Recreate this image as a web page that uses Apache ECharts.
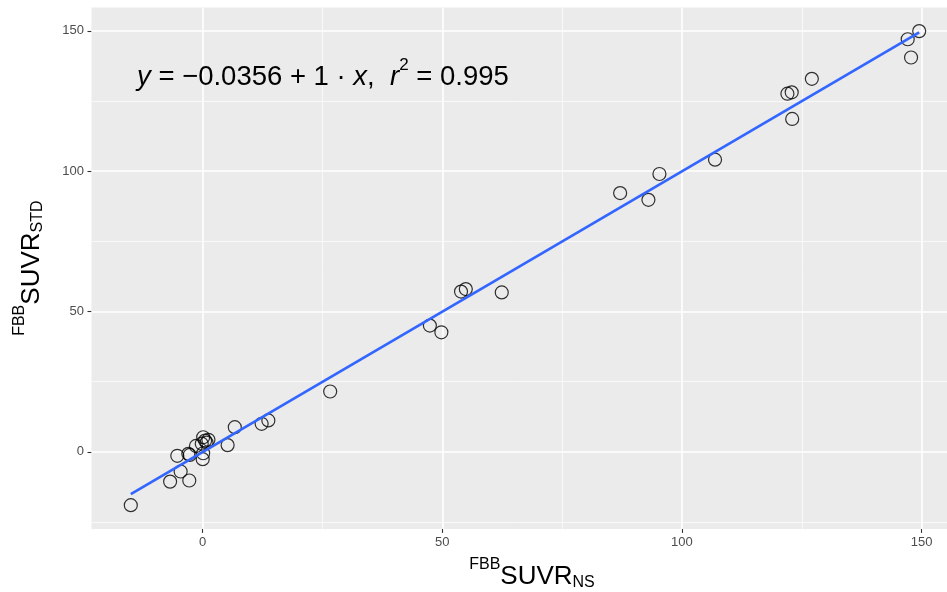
<!DOCTYPE html>
<html>
<head>
<meta charset="utf-8">
<script src="https://cdn.jsdelivr.net/npm/echarts@6/dist/echarts.min.js"></script>
<style>
html,body{margin:0;padding:0;background:#fff;}
#chart{width:947px;height:592px;}
</style>
</head>
<body>
<div id="chart"></div>
<script>
// Data
const nsValues  = [-15.0, -6.8, -2.8, -4.6, -5.3, -3.0, -2.7, -1.4, 0.0, 0.1, 0.1, 0.5, 0.8, -0.2, 1.2, 5.2, 6.7, 12.3, 13.7, 26.6, 47.4, 49.8, 53.9, 54.9, 62.4, 87.1, 93.0, 95.3, 106.9, 122.0, 122.9, 123.0, 127.1, 147.1, 149.5, 147.8];
const stdValues = [-19.0, -10.6, -10.2, -7.0, -1.4, -0.7, -1.1, 2.1, -2.6, -0.5, 5.2, 4.0, 3.3, 2.9, 4.3, 2.4, 8.8, 10.0, 11.2, 21.5, 45.0, 42.6, 57.1, 58.0, 56.8, 92.2, 89.8, 99.0, 104.1, 127.6, 128.1, 118.6, 132.9, 147.0, 149.9, 140.5];
const fitX = [-15.0, 149.5];
const fitY = [-15.04, 149.46];
const xTickLabels = [0, 50, 100, 150];
const yTickLabels = [0, 50, 100, 150];
const xMinorGrid = [25, 75, 125];
const yMinorGrid = [-25, 25, 75, 125];
const xRange = [-23.2, 157.7];
const yRange = [-27.45, 158.35];

const points = nsValues.map((v, i) => [v, stdValues[i]]);
const fitLine = fitX.map((v, i) => [v, fitY[i]]);

const chart = echarts.init(document.getElementById('chart'));
const FONT = 'Liberation Sans, Arial, sans-serif';
const axisTitleRich = {
  sup: {fontSize: 16, lineHeight: 16, verticalAlign: 'top', color: '#000', fontFamily: FONT},
  main: {fontSize: 26, lineHeight: 40, color: '#000', fontFamily: FONT},
  sub: {fontSize: 16, lineHeight: 16, verticalAlign: 'bottom', padding: [0, 0, 6, 0], color: '#000', fontFamily: FONT}
};

const majorGrid = [].concat(
  xTickLabels.map(v => ({xAxis: v})),
  yTickLabels.map(v => ({yAxis: v}))
);
const minorGrid = [].concat(
  xMinorGrid.map(v => ({xAxis: v})),
  yMinorGrid.map(v => ({yAxis: v}))
);

chart.setOption({
  animation: false,
  backgroundColor: '#ffffff',
  grid: {
    left: 91.5, top: 7.4, width: 867, height: 521.5,
    outerBoundsMode: 'none', containLabel: false,
    show: true, backgroundColor: '#EBEBEB', borderWidth: 0
  },
  xAxis: {
    type: 'value', min: xRange[0], max: xRange[1],
    axisLine: {show: false, onZero: false},
    splitLine: {show: false},
    axisTick: {show: true, customValues: xTickLabels, length: 4, lineStyle: {color: '#333333', width: 1.1}},
    axisLabel: {customValues: xTickLabels, color: '#4D4D4D', fontSize: 13, margin: 7, fontFamily: FONT},
    name: '{sup|FBB}{main|SUVR}{sub|NS}',
    nameLocation: 'middle', nameGap: 28,
    nameTextStyle: {rich: axisTitleRich, padding: [0, 0, 0, 14]}
  },
  yAxis: {
    type: 'value', min: yRange[0], max: yRange[1],
    axisLine: {show: false, onZero: false},
    splitLine: {show: false},
    axisTick: {show: true, customValues: yTickLabels, length: 4, lineStyle: {color: '#333333', width: 1.1}},
    axisLabel: {customValues: yTickLabels, color: '#4D4D4D', fontSize: 13, margin: 7.5, fontFamily: FONT},
    name: '{sup|FBB}{main|SUVR}{sub|STD}',
    nameLocation: 'middle', nameGap: 36,
    nameTextStyle: {rich: axisTitleRich}
  },
  graphic: [{
    type: 'text', left: 137, top: 57, z: 100,
    style: {
      rich: {
        i: {fontSize: 27.5, fontStyle: 'italic', fontFamily: FONT, fill: '#000', lineHeight: 40},
        n: {fontSize: 27.5, fontFamily: FONT, fill: '#000', lineHeight: 40},
        sup: {fontSize: 17, fontFamily: FONT, fill: '#000', lineHeight: 17, verticalAlign: 'top'}
      },
      text: '{i|y}{n| = −0.0356 + 1 · }{i|x}{n|,  }{i|r}{sup|2}{n| = 0.995}'
    }
  }],
  series: [
    {
      type: 'line', data: [], silent: true, z: 1,
      markLine: {
        silent: true, symbol: 'none', label: {show: false},
        lineStyle: {color: '#FFFFFF', width: 0.7, type: 'solid'},
        data: minorGrid, animation: false
      }
    },
    {
      type: 'line', data: [], silent: true, z: 1,
      markLine: {
        silent: true, symbol: 'none', label: {show: false},
        lineStyle: {color: '#FFFFFF', width: 1.6, type: 'solid'},
        data: majorGrid, animation: false
      }
    },
    {
      type: 'scatter', data: points, symbol: 'circle', symbolSize: 13, z: 5,
      itemStyle: {color: 'rgba(0,0,0,0)', borderColor: '#000000', borderWidth: 1.2}
    },
    {
      type: 'line', data: fitLine, symbol: 'none', z: 6, silent: true,
      lineStyle: {color: '#3366FF', width: 2.7}
    }
  ]
});
</script>
</body>
</html>
